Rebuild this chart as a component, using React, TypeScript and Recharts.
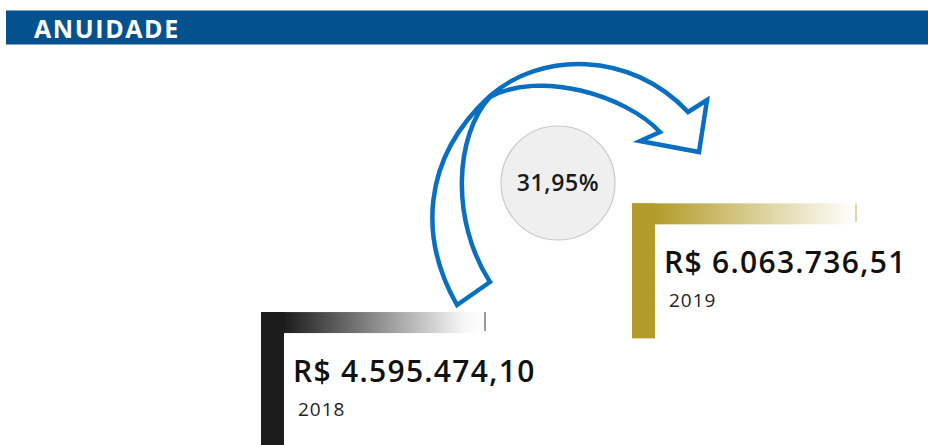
import { BarChart, Bar, XAxis, YAxis, Customized } from 'recharts';

const years = ['2018', '2019'];
const values = [4595474.1, 6063736.51];

const stepColors = ['#1c1c1c', '#b39b2b'];
const fadeEnd = ['#f6f6f6', '#f8f5e8'];
const edgeColors = ['#9a9a9a', '#e2d9a6'];

const data = years.map((year, i) => ({ year, value: values[i] }));

function brl(v: number) {
  const [int, dec] = v.toFixed(2).split('.');
  return 'R$ ' + int.replace(/\B(?=(\d{3})+(?!\d))/g, '.') + ',' + dec;
}

const growth = ((values[1] / values[0] - 1) * 100).toFixed(2).replace('.', ',') + '%';

const FONT = "'Open Sans', 'DejaVu Sans', sans-serif";

// L-shaped step: solid vertical post + fading top rail
const Step = (props: any) => {
  const { x, y, index, payload } = props;
  const w = 225;
  const rail = 21;
  const post = 23;
  const len = 135;
  const c = stepColors[index];
  const gid = `fade${index}`;
  return (
    <g>
      <defs>
        <linearGradient id={gid} x1="0" y1="0" x2="1" y2="0">
          <stop offset="0" stopColor={c} />
          <stop offset="0.1" stopColor={c} />
          <stop offset="0.9" stopColor={fadeEnd[index]} />
          <stop offset="1" stopColor="#ffffff" />
        </linearGradient>
      </defs>
      <rect x={x} y={y} width={w} height={rail} fill={`url(#${gid})`} />
      <rect x={x} y={y} width={post} height={len} fill={c} />
      <rect x={x + w - 2} y={y} width={2} height={rail - 2} fill={edgeColors[index]} />
      <text x={x + 32} y={y + 70} fontSize={30} fontWeight={600} letterSpacing={1.3} fill="#111" fontFamily={FONT}>
        {brl(payload.value)}
      </text>
      <text x={x + 37} y={y + 104} fontSize={19} letterSpacing={1} fill="#222" fontFamily={FONT}>
        {payload.year}
      </text>
    </g>
  );
};

const Growth = () => (
  <g>
    <circle cx={558} cy={183} r={57} fill="#efefef" stroke="#c9c9c9" strokeWidth={1.2} />
    <text x={558} y={191} textAnchor="middle" fontSize={23} fontWeight={600} letterSpacing={0.6} fill="#1a1a1a" fontFamily={FONT}>
      {growth}
    </text>
    <path
      d="M457,305 C420,240 420,160 490,96 C540,52 630,50 688,112 L707,100 L699,152 L640,141 L660,132 C625,95 540,70 490,97 C455,135 450,220 490,282 Z"
      fill="#ffffff"
      stroke="#0a6fc0"
      strokeWidth={4.5}
      strokeLinejoin="miter"
    />
  </g>
);

export default function App() {
  return (
    <div style={{ position: 'fixed', left: 0, top: 0, width: 928, height: 445, background: '#fff', overflow: 'hidden' }}>
      <div
        style={{
          position: 'absolute',
          left: 6,
          top: 10,
          width: 922,
          height: 35,
          background: '#03528f',
          borderTop: '1px solid #7ea3c4',
          borderBottom: '1px solid #7ea3c4',
          boxSizing: 'border-box',
        }}
      >
        <span
          style={{
            position: 'absolute',
            left: 28,
            top: 0,
            color: '#fff',
            fontFamily: FONT,
            fontWeight: 700,
            fontSize: 25,
            letterSpacing: 1.6,
          }}
        >
          ANUIDADE
        </span>
      </div>
      <BarChart
        width={928}
        height={445}
        data={data}
        margin={{ top: 60, right: 0, left: 186, bottom: 0 }}
        style={{ position: 'absolute', left: 0, top: 0 }}
      >
        <XAxis dataKey="year" hide />
        <YAxis hide domain={[2800000, 8000000]} allowDataOverflow />
        <Bar dataKey="value" barSize={221} shape={<Step />} isAnimationActive={false} />
        <Customized component={<Growth />} />
      </BarChart>
    </div>
  );
}
